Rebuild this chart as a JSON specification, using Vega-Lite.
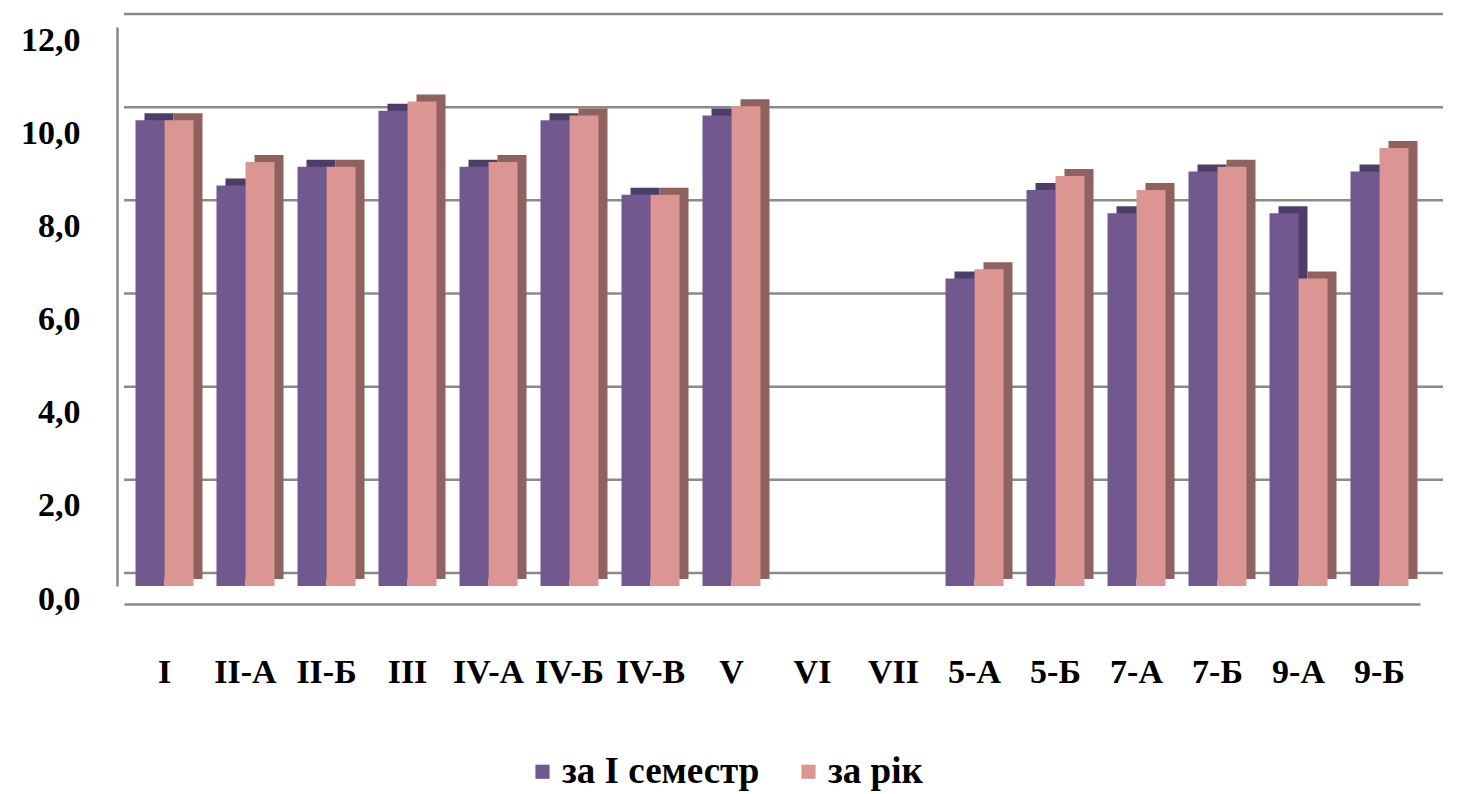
{
  "$schema": "https://vega.github.io/schema/vega-lite/v6.json",
  "autosize": {"type": "none"},
  "width": 1296,
  "height": 559,
  "padding": {"left": 124, "top": 27, "right": 47, "bottom": 208},
  "background": "white",
  "config": {
    "view": {"stroke": null},
    "font": "Liberation Serif",
    "legend": {
      "labelFont": "Liberation Serif",
      "labelFontWeight": "bold",
      "labelFontSize": 37,
      "labelColor": "#000000",
      "labelLimit": 400
    }
  },
  "data": {
    "values": [
      {"class": "I", "series": "за I семестр", "value": 10.0},
      {"class": "I", "series": "за рік", "value": 10.0},
      {"class": "II-А", "series": "за I семестр", "value": 8.6},
      {"class": "II-А", "series": "за рік", "value": 9.1},
      {"class": "II-Б", "series": "за I семестр", "value": 9.0},
      {"class": "II-Б", "series": "за рік", "value": 9.0},
      {"class": "III", "series": "за I семестр", "value": 10.2},
      {"class": "III", "series": "за рік", "value": 10.4},
      {"class": "IV-А", "series": "за I семестр", "value": 9.0},
      {"class": "IV-А", "series": "за рік", "value": 9.1},
      {"class": "IV-Б", "series": "за I семестр", "value": 10.0},
      {"class": "IV-Б", "series": "за рік", "value": 10.1},
      {"class": "IV-В", "series": "за I семестр", "value": 8.4},
      {"class": "IV-В", "series": "за рік", "value": 8.4},
      {"class": "V", "series": "за I семестр", "value": 10.1},
      {"class": "V", "series": "за рік", "value": 10.3},
      {"class": "5-А", "series": "за I семестр", "value": 6.6},
      {"class": "5-А", "series": "за рік", "value": 6.8},
      {"class": "5-Б", "series": "за I семестр", "value": 8.5},
      {"class": "5-Б", "series": "за рік", "value": 8.8},
      {"class": "7-А", "series": "за I семестр", "value": 8.0},
      {"class": "7-А", "series": "за рік", "value": 8.5},
      {"class": "7-Б", "series": "за I семестр", "value": 8.9},
      {"class": "7-Б", "series": "за рік", "value": 9.0},
      {"class": "9-А", "series": "за I семестр", "value": 8.0},
      {"class": "9-А", "series": "за рік", "value": 6.6},
      {"class": "9-Б", "series": "за I семестр", "value": 8.9},
      {"class": "9-Б", "series": "за рік", "value": 9.4}
    ]
  },
  "encoding": {
    "x": {
      "field": "class",
      "type": "nominal",
      "sort": null,
      "scale": {
        "domain": ["I", "II-А", "II-Б", "III", "IV-А", "IV-Б", "IV-В", "V", "VI", "VII", "5-А", "5-Б", "7-А", "7-Б", "9-А", "9-Б"],
        "paddingInner": 0.2,
        "paddingOuter": 0.1
      },
      "axis": {
        "title": null,
        "labelAngle": 0,
        "labelFont": "Liberation Serif",
        "labelFontWeight": "bold",
        "labelFontSize": 34,
        "labelColor": "#000000",
        "labelPadding": 51,
        "ticks": false,
        "tickSize": 0,
        "domain": true,
        "domainColor": "#8a8a8a",
        "domainWidth": 2.5,
        "offset": 18,
        "grid": false
      }
    },
    "y": {
      "field": "value",
      "type": "quantitative",
      "scale": {"domain": [0, 12], "nice": false},
      "axis": {
        "title": null,
        "values": [0, 2, 4, 6, 8, 10, 12],
        "labelExpr": "replace(format(datum.value, '.1f'), '.', ',')",
        "labelFont": "Liberation Serif",
        "labelFontWeight": "bold",
        "labelFontSize": 34,
        "labelColor": "#000000",
        "labelPadding": 37,
        "labelOffset": 13,
        "ticks": false,
        "tickSize": 0,
        "domain": true,
        "domainColor": "#8a8a8a",
        "domainWidth": 2.5,
        "offset": 7,
        "grid": false
      }
    }
  },
  "layer": [
    {
      "data": {"values": [{"level": 0}, {"level": 2}, {"level": 4}, {"level": 6}, {"level": 8}, {"level": 10}, {"level": 12}]},
      "mark": {"type": "rule", "color": "#8a8a8a", "strokeWidth": 2.5, "yOffset": -13, "xOffset": 23},
      "encoding": {
        "x": null,
        "y": {"field": "level", "type": "quantitative"}
      }
    },
    {
      "transform": [{"filter": "datum.series === 'за I семестр'"}],
      "mark": {"type": "bar", "width": 29, "xOffset": -5.5, "yOffset": -7, "color": "#4d3d69"},
      "encoding": {}
    },
    {
      "transform": [{"filter": "datum.series === 'за I семестр'"}],
      "mark": {"type": "bar", "width": 29, "xOffset": -14.5},
      "encoding": {
        "color": {
          "field": "series",
          "type": "nominal",
          "scale": {"domain": ["за I семестр", "за рік"], "range": ["#71598f", "#db9694"]},
          "legend": {
            "title": null,
            "orient": "none",
            "direction": "horizontal",
            "legendX": 400,
            "legendY": 726,
            "symbolType": "square",
            "symbolSize": 200,
            "symbolStrokeWidth": 0,
            "labelFont": "Liberation Serif",
            "labelFontWeight": "bold",
            "labelFontSize": 37,
            "labelColor": "#000000",
            "labelOffset": 1,
            "columnPadding": 30,
            "labelLimit": 400
          }
        }
      }
    },
    {
      "transform": [{"filter": "datum.series === 'за рік'"}],
      "mark": {"type": "bar", "width": 29, "xOffset": 23.5, "yOffset": -7, "color": "#8f615f"},
      "encoding": {}
    },
    {
      "transform": [{"filter": "datum.series === 'за рік'"}],
      "mark": {"type": "bar", "width": 29, "xOffset": 14.5},
      "encoding": {
        "color": {
          "field": "series",
          "type": "nominal",
          "scale": {"domain": ["за I семестр", "за рік"], "range": ["#71598f", "#db9694"]},
          "legend": null
        }
      }
    }
  ]
}
